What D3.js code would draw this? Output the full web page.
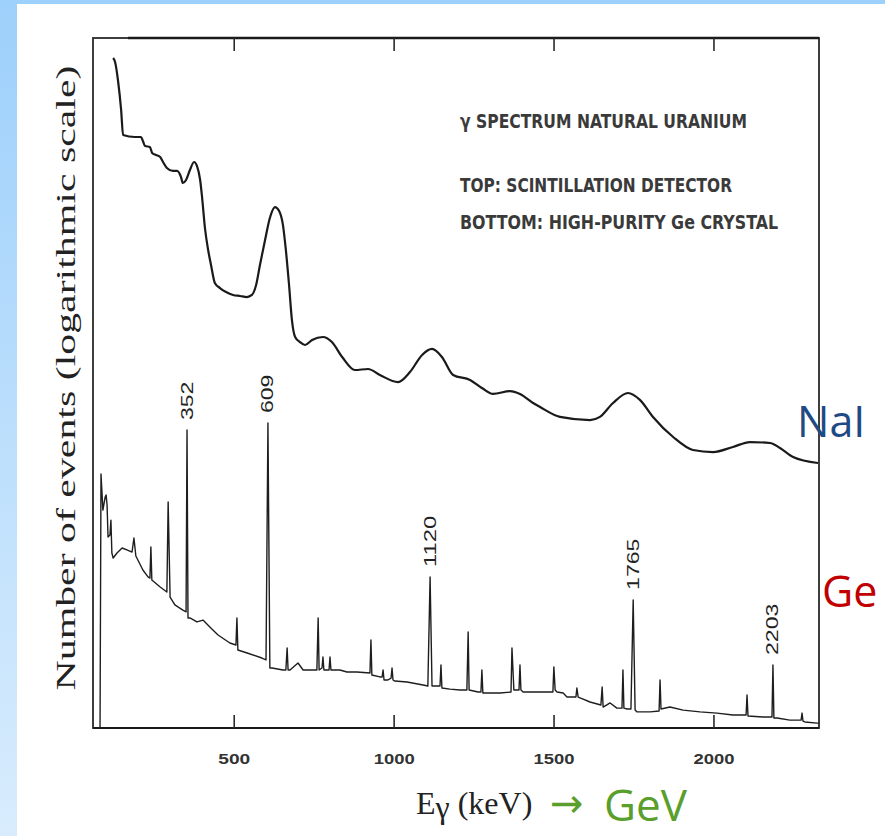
<!DOCTYPE html>
<html>
<head>
<meta charset="utf-8">
<script src="https://cdn.jsdelivr.net/npm/d3@7"></script>
<style>
  html, body { margin: 0; padding: 0; background: #ffffff; }
  svg { display: block; }
</style>
</head>
<body>
<script>
// ---------------- DATA ----------------
// x tick values (keV)
const xTicks = [500, 1000, 1500, 2000];
const xTickLabels = ["500", "1000", "1500", "2000"];

// NaI (scintillation detector) spectrum: energy (keV) and counts (log scale)
const naiEnergy = [123,129,138,148,154,191,210,216,223,238,
  245,257,270,279,291,310,323,335,341,351,
  363,376,385,395,401,410,420,429,441,457,
  476,498,520,541,557,570,582,598,613,629,
  642,654,663,673,682,692,707,723,745,779,
  807,839,879,920,957,1014,1051,1089,1120,1151,
  1186,1239,1276,1311,1364,1395,1436,1458,1520,1614,
  1645,1686,1733,1770,1811,1874,1936,1999,2061,2114,
  2177,2208,2249,2327];
const naiCounts = [5010000,4570000,3020000,1510000,851000,813000,813000,741000,661000,646000,
  562000,537000,513000,457000,398000,372000,372000,324000,282000,302000,
  380000,457000,417000,302000,204000,100000,60300,42700,28200,25100,
  22900,21400,20900,20400,21400,26900,42700,75900,126000,162000,
  148000,107000,60300,26900,12000,8130,7240,6760,7590,8130,
  7240,5130,3800,3890,3390,2880,3630,5370,6170,5130,
  3390,3020,2510,2190,2340,2190,1780,1620,1290,1200,
  1290,1780,2240,1910,1290,813,603,575,646,724,
  708,631,513,447];

// HPGe (high-purity germanium) spectrum: energy (keV) and counts
const geEnergy = [82,85,91,98,101,104,107,113,116,119,
  123,135,151,166,182,188,194,216,232,238,
  241,244,270,291,295,301,316,341,351,354,
  357,363,385,404,426,451,488,507,510,513,
  542,588,601,607,613,620,654,663,667,670,
  676,701,717,738,760,764,767,776,779,782,
  798,801,804,832,854,885,926,929,932,957,
  964,967,970,982,992,995,998,1004,1042,1092,
  1107,1114,1120,1136,1145,1148,1151,1176,1208,1229,
  1233,1236,1264,1273,1276,1279,1333,1367,1370,1376,
  1392,1395,1398,1405,1448,1498,1501,1505,1511,1530,
  1542,1570,1573,1577,1583,1614,1648,1652,1655,1677,
  1698,1714,1717,1720,1730,1742,1749,1755,1761,1802,
  1830,1833,1836,1864,1905,1958,2011,2061,2102,2105,
  2108,2155,2183,2186,2189,2199,2239,2274,2277,2280,
  2286,2324,2330];
const geCounts = [1,347,151,204,214,170,81.3,85.1,120,56.2,
  50.1,56.2,63.1,60.3,57.5,79.4,52.5,38.0,32.4,31.6,
  64.6,30.2,25.7,22.9,182,20.4,17.0,15.1,14.5,955,
  12.6,12.6,11.5,12.0,10.2,8.51,7.08,6.76,12.6,6.03,
  5.62,5.01,4.79,1122,3.98,3.98,3.80,3.80,6.31,3.80,
  3.80,4.47,3.80,3.80,3.80,12.6,3.80,3.98,5.13,3.80,
  3.80,5.13,3.80,3.80,3.63,3.63,3.55,7.59,3.39,3.24,
  3.24,3.80,3.02,3.02,3.16,3.98,3.02,2.95,2.88,2.69,
  2.63,32.4,2.63,2.63,2.63,4.27,2.51,2.45,2.40,2.40,
  9.12,2.40,2.29,2.29,3.80,2.24,2.24,2.29,6.31,2.40,
  2.40,4.27,2.40,2.29,2.29,2.29,4.07,2.40,2.29,2.24,
  2.04,2.04,2.51,2.04,2.00,1.82,1.70,2.57,1.62,1.78,
  1.58,1.58,3.80,1.58,1.55,1.55,19.1,1.51,1.45,1.45,
  1.48,3.02,1.55,1.62,1.51,1.45,1.41,1.35,1.35,2.14,
  1.32,1.29,1.29,4.27,1.26,1.26,1.20,1.20,1.41,1.17,
  1.15,1.12,1.12];

// labelled Ge peaks
const peakLabels = ["352", "609", "1120", "1765", "2203"];
const peakEnergy = [354, 607, 1114, 1749, 2186];

// annotation texts
const noteLines = ["\u03b3 SPECTRUM NATURAL URANIUM", "TOP: SCINTILLATION DETECTOR", "BOTTOM: HIGH-PURITY Ge CRYSTAL"];
const yTitle = "Number of events (logarithmic scale)";

// ---------------- CHART ----------------
const W = 885, H = 836;
const frame = {left: 93, right: 819, top: 38, bottom: 728};

const svg = d3.select("body").append("svg").attr("width", W).attr("height", H);

const defs = svg.append("defs");
const grad = defs.append("linearGradient").attr("id", "strip").attr("x1", 0).attr("y1", 0).attr("x2", 0).attr("y2", 1);
grad.append("stop").attr("offset", "0%").attr("stop-color", "#9dd0fb");
grad.append("stop").attr("offset", "100%").attr("stop-color", "#d8ecfd");

svg.append("rect").attr("width", W).attr("height", H).attr("fill", "#ffffff");
svg.append("rect").attr("x", 0).attr("y", 0).attr("width", 17).attr("height", H).attr("fill", "url(#strip)");
svg.append("rect").attr("x", 0).attr("y", 0).attr("width", W).attr("height", 4).attr("fill", "#9dd0fb");

const x = d3.scaleLinear().domain([60, 2330]).range([frame.left, frame.right]);
const y = d3.scaleLog().domain([1, Math.pow(10, 6.9)]).range([frame.bottom, frame.top]);

// frame
svg.append("rect")
  .attr("x", frame.left).attr("y", frame.top)
  .attr("width", frame.right - frame.left).attr("height", frame.bottom - frame.top)
  .attr("fill", "none").attr("stroke", "#2a2a2a").attr("stroke-width", 1.8);
svg.append("line")
  .attr("x1", frame.left + 35).attr("x2", frame.right).attr("y1", frame.top).attr("y2", frame.top)
  .attr("stroke", "#1a1a1a").attr("stroke-width", 2.6);
svg.append("line")
  .attr("x1", frame.left).attr("x2", frame.right).attr("y1", frame.bottom).attr("y2", frame.bottom)
  .attr("stroke", "#1a1a1a").attr("stroke-width", 2.2);

// axes (ticks pointing inward)
const axB = svg.append("g").attr("transform", `translate(0,${frame.bottom})`)
  .call(d3.axisBottom(x).tickValues(xTicks).tickSize(-13).tickPadding(25)
        .tickFormat((d, i) => xTickLabels[i]));
axB.select(".domain").remove();
axB.selectAll(".tick line").attr("stroke", "#2a2a2a").attr("stroke-width", 1.6);
axB.selectAll(".tick text")
  .attr("font-family", "'Liberation Sans Narrow', 'Liberation Sans', sans-serif")
  .attr("font-size", 15).attr("font-weight", "bold").attr("fill", "#333")
  .attr("textLength", (d, i) => xTickLabels[i].length === 3 ? 32 : 41)
  .attr("lengthAdjust", "spacingAndGlyphs");

const axT = svg.append("g").attr("transform", `translate(0,${frame.top})`)
  .call(d3.axisTop(x).tickValues(xTicks).tickSize(-13).tickFormat(""));
axT.select(".domain").remove();
axT.selectAll(".tick line").attr("stroke", "#2a2a2a").attr("stroke-width", 1.6);

// NaI spectrum
const naiData = naiEnergy.map((e, i) => ({e, c: naiCounts[i]}));
svg.append("path").datum(naiData)
  .attr("d", d3.line().x(d => x(d.e)).y(d => y(d.c)).curve(d3.curveMonotoneX))
  .attr("fill", "none").attr("stroke", "#1a1a1a").attr("stroke-width", 2.2)
  .attr("stroke-linejoin", "round");

// Ge spectrum
const geData = geEnergy.map((e, i) => ({e, c: geCounts[i]}));
svg.append("path").datum(geData)
  .attr("d", d3.line().x(d => x(d.e)).y(d => y(d.c)))
  .attr("fill", "none").attr("stroke", "#1e1e1e").attr("stroke-width", 1.4)
  .attr("stroke-linejoin", "round");

// peak labels
peakLabels.forEach((lab, i) => {
  const idx = geEnergy.indexOf(peakEnergy[i]);
  const px = x(peakEnergy[i]);
  const py = y(geCounts[idx]) - 10;
  svg.append("text")
    .attr("transform", `translate(${px},${py}) rotate(-90)`)
    .attr("text-anchor", "start").attr("dominant-baseline", "central")
    .attr("font-family", "'Liberation Sans', 'DejaVu Sans', sans-serif")
    .attr("font-size", 16).attr("fill", "#222")
    .attr("textLength", lab.length * 12.8).attr("lengthAdjust", "spacingAndGlyphs")
    .text(lab);
});

// annotation block
const noteY = [128, 192, 229];
const noteW = [287, 272, 318];
noteLines.forEach((t, i) => {
  svg.append("text")
    .attr("x", 460).attr("y", noteY[i])
    .attr("font-family", "'DejaVu Sans Condensed', 'DejaVu Sans', sans-serif").attr("font-stretch", "condensed")
    .attr("font-size", 19).attr("font-weight", "bold").attr("fill", "#3a3a3a")
    .attr("textLength", noteW[i]).attr("lengthAdjust", "spacingAndGlyphs")
    .text(t);
});

// y title
svg.append("text")
  .attr("transform", "translate(75,378) rotate(-90)")
  .attr("text-anchor", "middle")
  .attr("font-family", "'Liberation Serif', 'DejaVu Serif', serif")
  .attr("font-size", 28).attr("fill", "#222")
  .attr("textLength", 625).attr("lengthAdjust", "spacingAndGlyphs")
  .text(yTitle);

// x title
const xt = svg.append("text")
  .attr("x", 416).attr("y", 814)
  .attr("font-family", "'Liberation Serif', 'DejaVu Serif', serif")
  .attr("font-size", 32).attr("fill", "#222");
xt.append("tspan").text("E");
xt.append("tspan").attr("dy", 4).text("\u03b3");
xt.append("tspan").attr("dy", -4).text(" (keV)");

svg.append("text")
  .attr("x", 550).attr("y", 817)
  .attr("font-family", "'DejaVu Sans', sans-serif")
  .attr("font-size", 40).attr("fill", "#5a9e2b")
  .text("\u2192");
svg.append("text")
  .attr("x", 604).attr("y", 821)
  .attr("font-family", "'Open Sans', 'Noto Sans', sans-serif")
  .attr("font-size", 44).attr("fill", "#5a9e2b")
  .text("GeV");

// detector labels
svg.append("text").attr("x", 797).attr("y", 437)
  .attr("font-family", "'Open Sans', 'Noto Sans', sans-serif")
  .attr("font-size", 43).attr("fill", "#1f4a84").text("NaI");
svg.append("text").attr("x", 822).attr("y", 607)
  .attr("font-family", "'Open Sans', 'Noto Sans', sans-serif")
  .attr("font-size", 43).attr("fill", "#c00000").text("Ge");
</script>
</body>
</html>
